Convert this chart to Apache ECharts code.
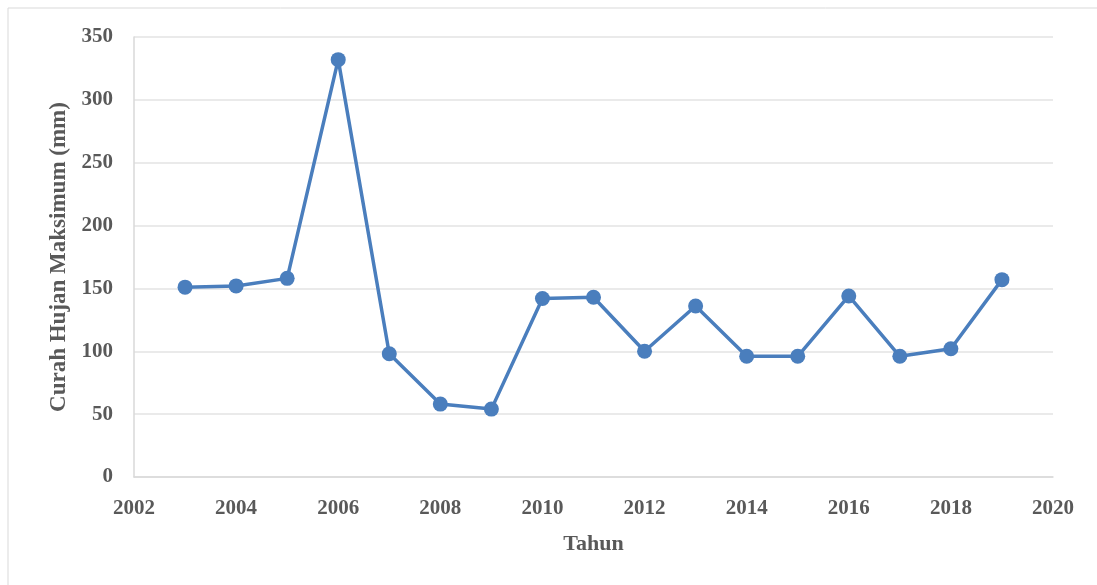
<!DOCTYPE html>
<html>
<head>
<meta charset="utf-8">
<script src="https://cdn.jsdelivr.net/npm/echarts@6/dist/echarts.min.js"></script>
<style>
html,body{margin:0;padding:0;background:#fff;}
#c{width:1097px;height:585px;}
</style>
</head>
<body>
<div id="c"></div>
<script>
const years = [2003, 2004, 2005, 2006, 2007, 2008, 2009, 2010, 2011, 2012, 2013, 2014, 2015, 2016, 2017, 2018, 2019];
const rainfall = [151, 152, 158, 332, 98, 58, 54, 142, 143, 100, 136, 96, 96, 144, 96, 102, 157];
const xTicks = [2002, 2004, 2006, 2008, 2010, 2012, 2014, 2016, 2018, 2020];
const yTicks = [0, 50, 100, 150, 200, 250, 300, 350];

const font = '"Liberation Serif", "Times New Roman", serif';
const textColor = '#595959';
const chart = echarts.init(document.getElementById('c'), null, {renderer: 'canvas'});
chart.setOption({
  backgroundColor: '#ffffff',
  animation: false,
  graphic: [{
    type: 'rect',
    shape: {x: 8, y: 8, width: 1200, height: 700},
    style: {fill: 'none', stroke: '#d9d9d9', lineWidth: 1},
    silent: true, z: -1
  }],
  grid: {left: 134, right: 44, top: 37, bottom: 108},
  xAxis: {
    type: 'value',
    min: xTicks[0], max: xTicks[xTicks.length - 1], interval: 2,
    name: 'Tahun', nameLocation: 'middle', nameGap: 56,
    nameTextStyle: {fontFamily: font, fontWeight: 'bold', fontSize: 22, color: textColor},
    axisLine: {show: true, lineStyle: {color: '#d9d9d9', width: 1.5}},
    axisTick: {show: false},
    splitLine: {show: false},
    axisLabel: {fontFamily: font, fontWeight: 'bold', fontSize: 21, color: textColor, margin: 21,
      formatter: v => String(v)}
  },
  yAxis: {
    type: 'value',
    min: yTicks[0], max: yTicks[yTicks.length - 1], interval: 50,
    name: 'Curah Hujan Maksimum (mm)', nameLocation: 'middle', nameGap: 63, nameRotate: 90,
    nameTextStyle: {fontFamily: font, fontWeight: 'bold', fontSize: 23, color: textColor},
    axisLine: {show: true, lineStyle: {color: '#d9d9d9', width: 1.5}},
    axisTick: {show: false},
    splitLine: {show: true, lineStyle: {color: '#e3e3e3', width: 1.5}},
    axisLabel: {fontFamily: font, fontWeight: 'bold', fontSize: 21, color: textColor, margin: 21}
  },
  series: [{
    type: 'line',
    data: years.map((y, i) => [y, rainfall[i]]),
    symbol: 'circle',
    symbolSize: 15,
    itemStyle: {color: '#4a7ebd'},
    lineStyle: {color: '#4a7ebd', width: 3.5}
  }]
});
</script>
</body>
</html>
